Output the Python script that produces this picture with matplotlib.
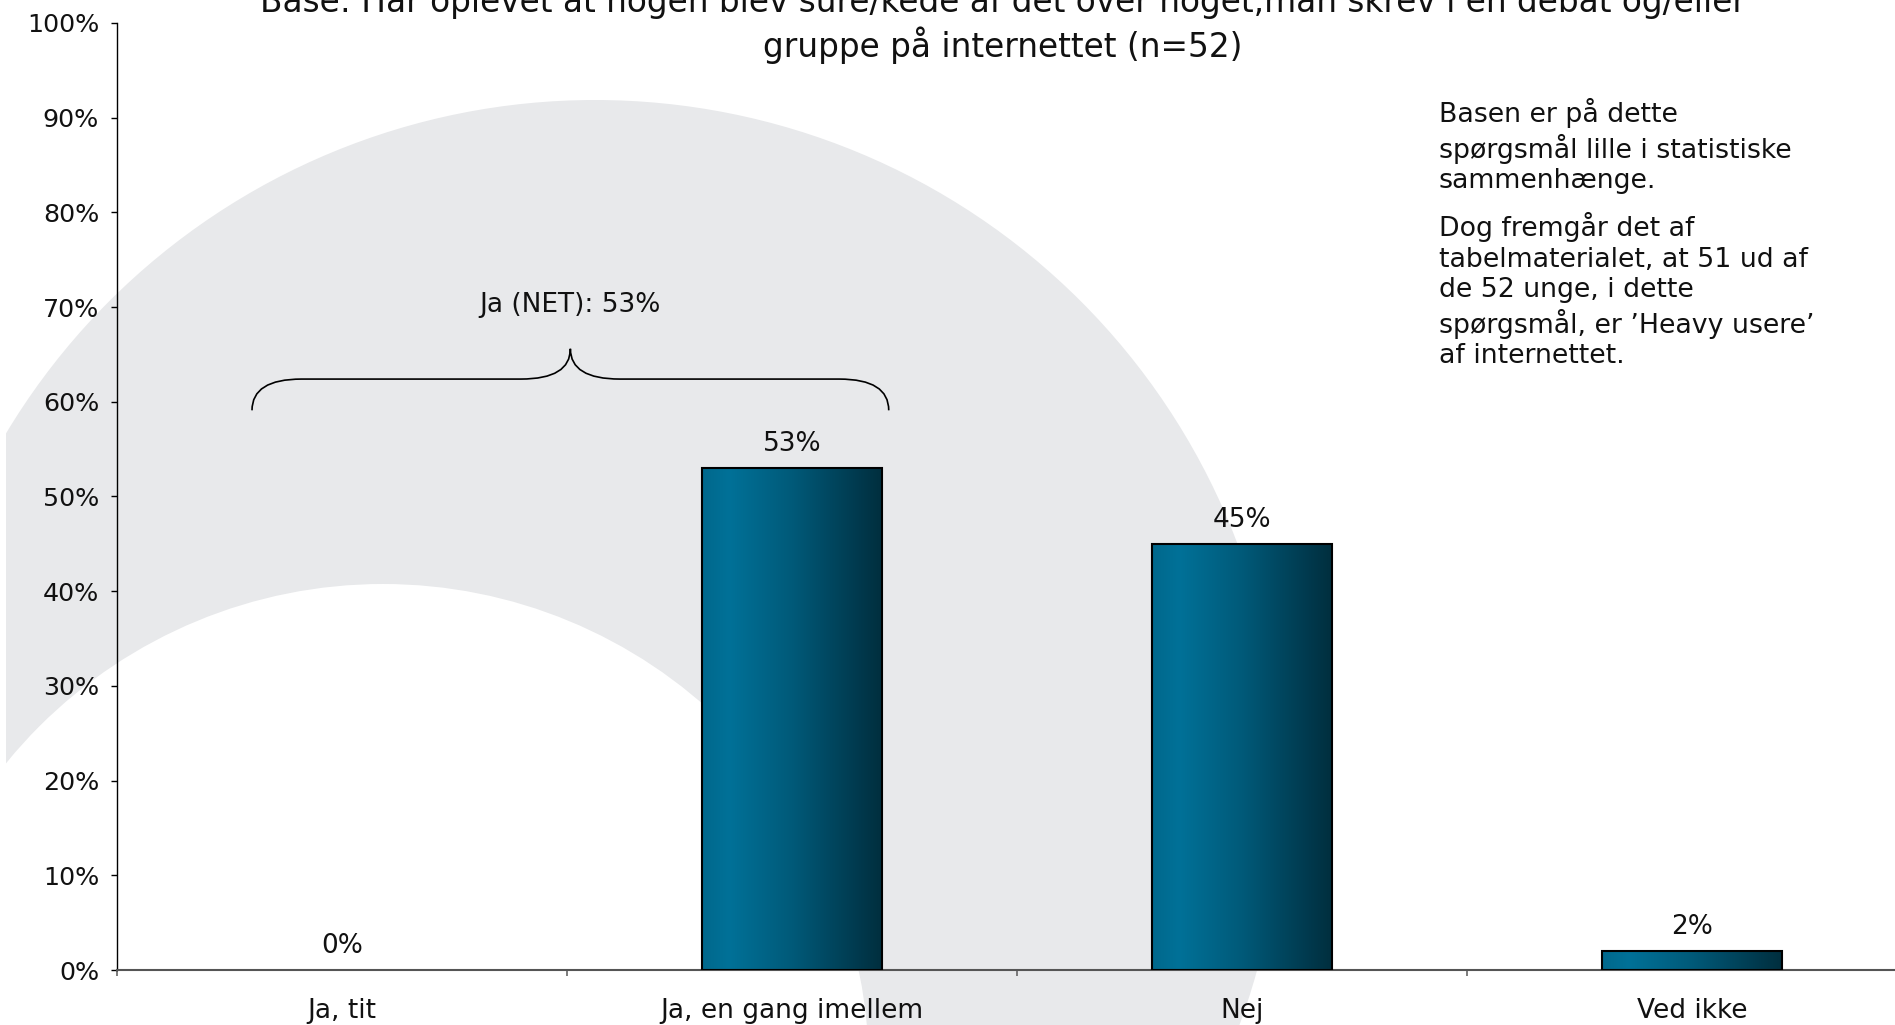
import matplotlib
matplotlib.use('Agg')
import matplotlib.pyplot as plt
import numpy as np
from matplotlib.patches import Circle, Rectangle, PathPatch
from matplotlib.path import Path
from matplotlib.colors import LinearSegmentedColormap

# data
categories = ['Ja, tit', 'Ja, en gang imellem', 'Nej', 'Ved ikke']
values = [0, 53, 45, 2]
value_labels = ['0%', '53%', '45%', '2%']
net_label = 'Ja (NET): 53%'
net_group = [0, 1]
yticks = list(range(0, 101, 10))
ytick_labels = [f'{t}%' for t in yticks]

title = ('Base: Har oplevet at nogen blev sure/kede af det over noget,man skrev i en debat og/eller\n'
         'gruppe på internettet (n=52)')
note1 = 'Basen er på dette\nspørgsmål lille i statistiske\nsammenhænge.'
note2 = ('Dog fremgår det af\ntabelmaterialet, at 51 ud af\nde 52 unge, i dette\n'
         'spørgsmål, er ’Heavy usere’\naf internettet.')

W, H = 1895, 1025
TXT = '#111111'
plt.rcParams['font.family'] = ['DejaVu Sans']

fig = plt.figure(figsize=(W / 100, H / 100), dpi=100)

# decorative grey arc in the background (pixel coordinates)
bg = fig.add_axes([0, 0, 1, 1], zorder=0)
bg.set_xlim(0, W)
bg.set_ylim(H, 0)
bg.axis('off')
clip = Rectangle((6, 0), W, H, transform=bg.transData)
outer = Circle((595, 787), 687, facecolor='#e8e9eb', edgecolor='none')
inner = Circle((383, 1070), 486, facecolor='white', edgecolor='none')
for p in (outer, inner):
    bg.add_patch(p)
    p.set_clip_path(clip)

# main axes
ax = fig.add_axes([117 / W, 1 - 970 / H, 1800 / W, 947 / H], zorder=1)
ax.patch.set_alpha(0)

x = np.arange(len(categories))
edges = ['black' if v > 0 else 'none' for v in values]
bars = ax.bar(x, values, width=0.4, color='none', edgecolor=edges, linewidth=1.5, zorder=3)

cmap = LinearSegmentedColormap.from_list(
    'bar', [(0, '#00688c'), (0.15, '#007198'), (0.5, '#005a79'), (0.85, '#003b50'), (1, '#002f3e')])
grad = np.linspace(0, 1, 256).reshape(1, -1)
for b in bars:
    if b.get_height() <= 0:
        continue
    im = ax.imshow(grad, cmap=cmap, aspect='auto', zorder=2,
                   extent=[b.get_x(), b.get_x() + b.get_width(), 0, b.get_height()])
    im.set_clip_path(b)

for xi, v, lab in zip(x, values, value_labels):
    ax.annotate(lab, (xi, v), xytext=(0, 17.5), textcoords='offset points',
                ha='center', va='center', fontsize=19, color=TXT)

ax.set_xlim(-0.5, 3.5)
ax.set_ylim(0, 100)
ax.set_yticks(yticks, ytick_labels)
ax.tick_params(axis='y', length=4.3, width=1, pad=8.6, labelsize=18.3, labelcolor=TXT)
ax.set_xticks(np.arange(-0.5, len(categories), 1), [''] * (len(categories) + 1))
ax.set_xticks(x, categories, minor=True)
ax.tick_params(axis='x', which='major', length=4, width=1.2, color='#666666')
ax.tick_params(axis='x', which='minor', length=0, pad=20.5, labelsize=19, labelcolor=TXT)
ax.spines[['top', 'right']].set_visible(False)
ax.spines['left'].set_linewidth(1)
ax.spines['bottom'].set_color('#555555')
ax.spines['bottom'].set_linewidth(1.5)

# brace over the "Ja" categories
x0, x1 = net_group[0] - 0.2, net_group[1] + 0.215
xm = (x0 + x1) / 2
y0, y1, y2, r = 59.1, 62.4, 65.6, 0.11
verts = [(x0, y0), (x0, y1), (x0 + r, y1), (xm - r, y1), (xm, y1), (xm, y2),
         (xm, y1), (xm + r, y1), (x1 - r, y1), (x1, y1), (x1, y0)]
codes = [Path.MOVETO, Path.CURVE3, Path.CURVE3, Path.LINETO, Path.CURVE3, Path.CURVE3,
         Path.CURVE3, Path.CURVE3, Path.LINETO, Path.CURVE3, Path.CURVE3]
ax.add_patch(PathPatch(Path(verts, codes), facecolor='none', edgecolor='black', lw=1.2, zorder=4))
ax.text(xm, 70.2, net_label, ha='center', va='center', fontsize=19, color=TXT)

# title and side note (baseline = last line)
fig.text(1003 / W, 1 - 57 / H, title, ha='center', va='baseline', fontsize=23.6,
         linespacing=1.25, color=TXT)
fig.text(1439 / W, 1 - 188 / H, note1, ha='left', va='baseline', fontsize=19.3,
         linespacing=1.22, color=TXT)
fig.text(1439 / W, 1 - 363 / H, note2, ha='left', va='baseline', fontsize=19.3,
         linespacing=1.22, color=TXT)

fig.savefig('out.png', dpi=100)
